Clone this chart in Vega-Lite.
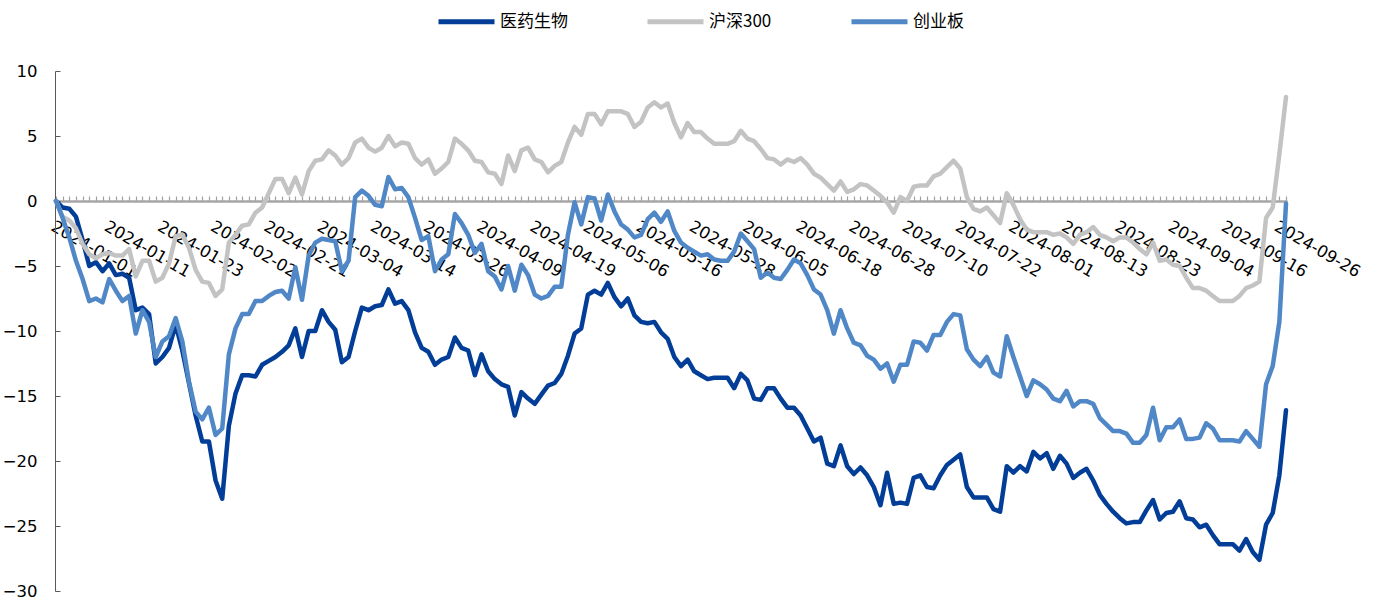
{
"$schema": "https://vega.github.io/schema/vega-lite/v6.json",
"width": 1232, "height": 520,
"autosize": {"type": "none"},
"padding": {"left": 55, "top": 71, "right": 89, "bottom": 8},
"background": "white",
"config": {"view": {"stroke": null}, "font": "DejaVu Sans"},
"data": {"values": [
{"d":"2024-01-01","医药生物":0,"沪深300":0,"创业板":0},
{"d":"2024-01-02","医药生物":-0.5,"沪深300":-1.2,"创业板":-1.3},
{"d":"2024-01-03","医药生物":-0.6,"沪深300":-1.5,"创业板":-2.8},
{"d":"2024-01-04","医药生物":-1.2,"沪深300":-2.1,"创业板":-4.6},
{"d":"2024-01-05","医药生物":-3.0,"沪深300":-3.3,"创业板":-6.0},
{"d":"2024-01-08","医药生物":-5.0,"沪深300":-4.1,"创业板":-7.7},
{"d":"2024-01-09","医药生物":-4.7,"沪深300":-4.4,"创业板":-7.5},
{"d":"2024-01-10","医药生物":-5.4,"沪深300":-4.1,"创业板":-7.8},
{"d":"2024-01-11","医药生物":-4.8,"沪深300":-4.0,"创业板":-6.0},
{"d":"2024-01-12","医药生物":-5.7,"沪深300":-4.2,"创业板":-6.9},
{"d":"2024-01-15","医药生物":-5.6,"沪深300":-4.2,"创业板":-7.7},
{"d":"2024-01-16","医药生物":-5.9,"沪深300":-3.7,"创业板":-7.3},
{"d":"2024-01-17","医药生物":-8.4,"沪深300":-5.8,"创业板":-10.2},
{"d":"2024-01-18","医药生物":-8.2,"沪深300":-4.6,"创业板":-8.4},
{"d":"2024-01-19","医药生物":-8.7,"沪深300":-4.6,"创业板":-9.3},
{"d":"2024-01-22","医药生物":-12.5,"沪深300":-6.2,"创业板":-12.0},
{"d":"2024-01-23","医药生物":-12.0,"沪深300":-5.9,"创业板":-10.8},
{"d":"2024-01-24","医药生物":-11.3,"沪深300":-4.8,"创业板":-10.4},
{"d":"2024-01-25","医药生物":-9.5,"沪深300":-2.7,"创业板":-9.0},
{"d":"2024-01-26","医药生物":-11.5,"沪深300":-2.6,"创业板":-10.8},
{"d":"2024-01-29","医药生物":-14.0,"沪深300":-3.6,"创业板":-13.9},
{"d":"2024-01-30","医药生物":-16.5,"沪深300":-5.3,"创业板":-16.2},
{"d":"2024-01-31","医药生物":-18.5,"沪深300":-6.2,"创业板":-16.8},
{"d":"2024-02-01","医药生物":-18.5,"沪深300":-6.3,"创业板":-15.9},
{"d":"2024-02-02","医药生物":-21.5,"沪深300":-7.3,"创业板":-18.0},
{"d":"2024-02-05","医药生物":-22.9,"沪深300":-6.8,"创业板":-17.5},
{"d":"2024-02-06","医药生物":-17.3,"沪深300":-3.2,"创业板":-11.8},
{"d":"2024-02-07","医药生物":-14.8,"沪深300":-2.6,"创业板":-9.8},
{"d":"2024-02-08","医药生物":-13.4,"沪深300":-1.9,"创业板":-8.7},
{"d":"2024-02-09","医药生物":-13.4,"沪深300":-1.8,"创业板":-8.7},
{"d":"2024-02-19","医药生物":-13.5,"沪深300":-0.9,"创业板":-7.7},
{"d":"2024-02-20","医药生物":-12.6,"沪深300":-0.5,"创业板":-7.7},
{"d":"2024-02-21","医药生物":-12.3,"沪深300":0.6,"创业板":-7.3},
{"d":"2024-02-22","医药生物":-12.0,"沪深300":1.7,"创业板":-7.0},
{"d":"2024-02-23","医药生物":-11.6,"沪深300":1.7,"创业板":-6.9},
{"d":"2024-02-26","医药生物":-11.1,"沪深300":0.6,"创业板":-7.5},
{"d":"2024-02-27","医药生物":-9.8,"沪深300":1.8,"创业板":-5.1},
{"d":"2024-02-28","医药生物":-12.0,"沪深300":0.5,"创业板":-7.6},
{"d":"2024-02-29","医药生物":-10.0,"沪深300":2.3,"创业板":-4.2},
{"d":"2024-03-01","医药生物":-10.0,"沪深300":3.1,"创业板":-3.2},
{"d":"2024-03-04","医药生物":-8.4,"沪深300":3.2,"创业板":-2.9},
{"d":"2024-03-05","医药生物":-9.3,"沪深300":3.9,"创业板":-3.0},
{"d":"2024-03-06","医药生物":-9.9,"沪深300":3.5,"创业板":-3.1},
{"d":"2024-03-07","医药生物":-12.4,"沪深300":2.8,"创业板":-5.4},
{"d":"2024-03-08","医药生物":-12.0,"沪深300":3.3,"创业板":-4.6},
{"d":"2024-03-11","医药生物":-10.0,"沪深300":4.5,"创业板":0.3},
{"d":"2024-03-12","医药生物":-8.2,"沪深300":4.8,"创业板":0.8},
{"d":"2024-03-13","医药生物":-8.4,"沪深300":4.1,"创业板":0.4},
{"d":"2024-03-14","医药生物":-8.1,"沪深300":3.8,"创业板":-0.3},
{"d":"2024-03-15","医药生物":-8.0,"沪深300":4.1,"创业板":-0.4},
{"d":"2024-03-18","医药生物":-6.8,"沪深300":5.0,"创业板":1.85},
{"d":"2024-03-19","医药生物":-7.9,"沪深300":4.2,"创业板":0.9},
{"d":"2024-03-20","医药生物":-7.7,"沪深300":4.5,"创业板":1.0},
{"d":"2024-03-21","医药生物":-8.4,"沪深300":4.4,"创业板":0.3},
{"d":"2024-03-22","医药生物":-10.1,"沪深300":3.3,"创业板":-1.3},
{"d":"2024-03-25","医药生物":-11.3,"沪深300":2.8,"创业板":-3.0},
{"d":"2024-03-26","医药生物":-11.6,"沪深300":3.2,"创业板":-2.7},
{"d":"2024-03-27","医药生物":-12.6,"沪深300":2.1,"创业板":-5.4},
{"d":"2024-03-28","医药生物":-12.2,"沪深300":2.5,"创业板":-4.5},
{"d":"2024-03-29","医药生物":-12.0,"沪深300":3.0,"创业板":-4.1},
{"d":"2024-04-01","医药生物":-10.5,"沪深300":4.8,"创业板":-1.0},
{"d":"2024-04-02","医药生物":-11.3,"沪深300":4.4,"创业板":-1.7},
{"d":"2024-04-03","医药生物":-11.5,"沪深300":3.9,"创业板":-2.6},
{"d":"2024-04-08","医药生物":-13.4,"沪深300":3.1,"创业板":-4.0},
{"d":"2024-04-09","医药生物":-11.8,"沪深300":3.0,"创业板":-3.3},
{"d":"2024-04-10","医药生物":-13.1,"沪深300":2.2,"创业板":-5.4},
{"d":"2024-04-11","医药生物":-13.7,"沪深300":2.1,"创业板":-5.8},
{"d":"2024-04-12","医药生物":-14.1,"沪深300":1.3,"创业板":-6.8},
{"d":"2024-04-15","医药生物":-14.3,"沪深300":3.5,"创业板":-5.0},
{"d":"2024-04-16","医药生物":-16.5,"沪深300":2.3,"创业板":-6.9},
{"d":"2024-04-17","医药生物":-14.7,"沪深300":3.9,"创业板":-4.9},
{"d":"2024-04-18","医药生物":-15.2,"沪深300":4.1,"创业板":-5.7},
{"d":"2024-04-19","医药生物":-15.6,"沪深300":3.2,"创业板":-7.2},
{"d":"2024-04-22","医药生物":-14.9,"沪深300":3.0,"创业板":-7.5},
{"d":"2024-04-23","医药生物":-14.2,"沪深300":2.2,"创业板":-7.3},
{"d":"2024-04-24","医药生物":-14.0,"沪深300":2.7,"创业板":-6.6},
{"d":"2024-04-25","医药生物":-13.3,"沪深300":3.0,"创业板":-6.6},
{"d":"2024-04-26","医药生物":-11.9,"沪深300":4.5,"创业板":-2.6},
{"d":"2024-04-29","医药生物":-10.2,"沪深300":5.7,"创业板":-0.1},
{"d":"2024-04-30","医药生物":-9.8,"沪深300":5.1,"创业板":-1.8},
{"d":"2024-05-06","医药生物":-7.2,"沪深300":6.7,"创业板":0.3},
{"d":"2024-05-07","医药生物":-6.9,"沪深300":6.7,"创业板":0.2},
{"d":"2024-05-08","医药生物":-7.2,"沪深300":5.9,"创业板":-1.5},
{"d":"2024-05-09","医药生物":-6.3,"沪深300":6.9,"创业板":0.5},
{"d":"2024-05-10","医药生物":-7.4,"沪深300":6.9,"创业板":-0.8},
{"d":"2024-05-13","医药生物":-8.1,"沪深300":6.9,"创业板":-1.8},
{"d":"2024-05-14","医药生物":-7.5,"沪深300":6.7,"创业板":-2.2},
{"d":"2024-05-15","医药生物":-8.8,"沪深300":5.7,"创业板":-2.8},
{"d":"2024-05-16","医药生物":-9.3,"沪深300":6.1,"创业板":-2.6},
{"d":"2024-05-17","医药生物":-9.4,"沪深300":7.2,"创业板":-1.4},
{"d":"2024-05-20","医药生物":-9.3,"沪深300":7.6,"创业板":-0.9},
{"d":"2024-05-21","医药生物":-10.1,"沪深300":7.2,"创业板":-1.6},
{"d":"2024-05-22","医药生物":-10.6,"沪深300":7.5,"创业板":-0.8},
{"d":"2024-05-23","医药生物":-12.0,"沪深300":6.0,"创业板":-2.3},
{"d":"2024-05-24","医药生物":-12.7,"沪深300":4.9,"创业板":-3.2},
{"d":"2024-05-27","医药生物":-12.2,"沪深300":6.0,"创业板":-3.6},
{"d":"2024-05-28","医药生物":-13.1,"沪深300":5.3,"创业板":-3.9},
{"d":"2024-05-29","医药生物":-13.4,"沪深300":5.3,"创业板":-4.2},
{"d":"2024-05-30","医药生物":-13.7,"沪深300":4.8,"创业板":-4.1},
{"d":"2024-05-31","医药生物":-13.6,"沪深300":4.4,"创业板":-4.5},
{"d":"2024-06-01","医药生物":-13.6,"沪深300":4.4,"创业板":-4.6},
{"d":"2024-06-02","医药生物":-13.6,"沪深300":4.4,"创业板":-4.6},
{"d":"2024-06-03","医药生物":-14.4,"沪深300":4.6,"创业板":-3.9},
{"d":"2024-06-04","医药生物":-13.3,"沪深300":5.4,"创业板":-2.5},
{"d":"2024-06-05","医药生物":-13.8,"沪深300":4.8,"创业板":-3.1},
{"d":"2024-06-06","医药生物":-15.2,"沪深300":4.6,"创业板":-3.7},
{"d":"2024-06-07","医药生物":-15.3,"沪深300":4.0,"创业板":-5.9},
{"d":"2024-06-11","医药生物":-14.4,"沪深300":3.3,"创业板":-5.5},
{"d":"2024-06-12","医药生物":-14.4,"沪深300":3.2,"创业板":-5.9},
{"d":"2024-06-13","医药生物":-15.2,"沪深300":2.8,"创业板":-6.0},
{"d":"2024-06-14","医药生物":-15.9,"沪深300":3.2,"创业板":-5.3},
{"d":"2024-06-17","医药生物":-15.9,"沪深300":3.0,"创业板":-4.5},
{"d":"2024-06-18","医药生物":-16.5,"沪深300":3.3,"创业板":-4.8},
{"d":"2024-06-19","医药生物":-17.5,"沪深300":2.8,"创业板":-5.7},
{"d":"2024-06-20","医药生物":-18.5,"沪深300":2.1,"创业板":-6.8},
{"d":"2024-06-21","医药生物":-18.2,"沪深300":1.8,"创业板":-7.2},
{"d":"2024-06-24","医药生物":-20.2,"沪深300":1.3,"创业板":-8.4},
{"d":"2024-06-25","医药生物":-20.4,"沪深300":0.8,"创业板":-10.2},
{"d":"2024-06-26","医药生物":-18.8,"沪深300":1.5,"创业板":-8.4},
{"d":"2024-06-27","医药生物":-20.4,"沪深300":0.7,"创业板":-9.8},
{"d":"2024-06-28","医药生物":-21.0,"沪深300":0.9,"创业板":-10.9},
{"d":"2024-07-01","医药生物":-20.5,"沪深300":1.3,"创业板":-11.1},
{"d":"2024-07-02","医药生物":-21.1,"沪深300":1.2,"创业板":-11.9},
{"d":"2024-07-03","医药生物":-22.0,"沪深300":0.8,"创业板":-12.2},
{"d":"2024-07-04","医药生物":-23.4,"沪深300":0.4,"创业板":-12.9},
{"d":"2024-07-05","医药生物":-20.9,"沪深300":-0.1,"创业板":-12.5},
{"d":"2024-07-08","医药生物":-23.3,"沪深300":-0.9,"创业板":-13.9},
{"d":"2024-07-09","医药生物":-23.2,"沪深300":0.3,"创业板":-12.6},
{"d":"2024-07-10","医药生物":-23.3,"沪深300":0.0,"创业板":-12.6},
{"d":"2024-07-11","医药生物":-21.3,"沪深300":1.1,"创业板":-10.8},
{"d":"2024-07-12","医药生物":-21.1,"沪深300":1.2,"创业板":-10.9},
{"d":"2024-07-15","医药生物":-22.0,"沪深300":1.2,"创业板":-11.5},
{"d":"2024-07-16","医药生物":-22.1,"沪深300":1.9,"创业板":-10.3},
{"d":"2024-07-17","医药生物":-21.1,"沪深300":2.1,"创业板":-10.3},
{"d":"2024-07-18","医药生物":-20.3,"沪深300":2.6,"创业板":-9.3},
{"d":"2024-07-19","医药生物":-19.9,"沪深300":3.1,"创业板":-8.7},
{"d":"2024-07-22","医药生物":-19.5,"沪深300":2.5,"创业板":-8.8},
{"d":"2024-07-23","医药生物":-22.0,"沪深300":0.3,"创业板":-11.4},
{"d":"2024-07-24","医药生物":-22.8,"沪深300":-0.6,"创业板":-12.2},
{"d":"2024-07-25","医药生物":-22.8,"沪深300":-0.8,"创业板":-12.7},
{"d":"2024-07-26","医药生物":-22.8,"沪深300":-0.5,"创业板":-12.0},
{"d":"2024-07-29","医药生物":-23.7,"沪深300":-1.1,"创业板":-13.2},
{"d":"2024-07-30","医药生物":-23.9,"沪深300":-1.7,"创业板":-13.5},
{"d":"2024-07-31","医药生物":-20.4,"沪深300":0.6,"创业板":-10.4},
{"d":"2024-08-01","医药生物":-20.9,"沪深300":-0.3,"创业板":-12.0},
{"d":"2024-08-02","医药生物":-20.4,"沪深300":-1.4,"创业板":-13.5},
{"d":"2024-08-05","医药生物":-20.8,"沪深300":-2.2,"创业板":-15.0},
{"d":"2024-08-06","医药生物":-19.3,"沪深300":-2.4,"创业板":-13.8},
{"d":"2024-08-07","医药生物":-19.8,"沪深300":-2.4,"创业板":-14.1},
{"d":"2024-08-08","医药生物":-19.4,"沪深300":-2.4,"创业板":-14.5},
{"d":"2024-08-09","医药生物":-20.6,"沪深300":-2.6,"创业板":-15.2},
{"d":"2024-08-12","医药生物":-19.6,"沪深300":-2.5,"创业板":-15.4},
{"d":"2024-08-13","医药生物":-20.2,"沪深300":-2.8,"创业板":-14.6},
{"d":"2024-08-14","医药生物":-21.3,"沪深300":-3.3,"创业板":-15.8},
{"d":"2024-08-15","医药生物":-20.9,"沪深300":-2.6,"创业板":-15.4},
{"d":"2024-08-16","医药生物":-20.6,"沪深300":-2.4,"创业板":-15.4},
{"d":"2024-08-19","医药生物":-21.5,"沪深300":-2.0,"创业板":-15.6},
{"d":"2024-08-20","医药生物":-22.6,"沪深300":-2.6,"创业板":-16.7},
{"d":"2024-08-21","医药生物":-23.3,"沪深300":-2.8,"创业板":-17.2},
{"d":"2024-08-22","医药生物":-23.9,"沪深300":-3.1,"创业板":-17.7},
{"d":"2024-08-23","医药生物":-24.4,"沪深300":-2.8,"创业板":-17.7},
{"d":"2024-08-26","医药生物":-24.8,"沪深300":-2.8,"创业板":-17.9},
{"d":"2024-08-27","医药生物":-24.7,"沪深300":-3.2,"创业板":-18.6},
{"d":"2024-08-28","医药生物":-24.7,"沪深300":-3.7,"创业板":-18.6},
{"d":"2024-08-29","医药生物":-23.8,"沪深300":-4.1,"创业板":-18.0},
{"d":"2024-08-30","医药生物":-23.0,"沪深300":-3.2,"创业板":-15.9},
{"d":"2024-09-02","医药生物":-24.5,"沪深300":-4.6,"创业板":-18.4},
{"d":"2024-09-03","医药生物":-24.0,"沪深300":-4.5,"创业板":-17.4},
{"d":"2024-09-04","医药生物":-23.9,"沪深300":-4.9,"创业板":-17.4},
{"d":"2024-09-05","医药生物":-23.1,"沪深300":-5.0,"创业板":-16.8},
{"d":"2024-09-06","医药生物":-24.4,"沪深300":-5.9,"创业板":-18.3},
{"d":"2024-09-09","医药生物":-24.5,"沪深300":-6.7,"创业板":-18.3},
{"d":"2024-09-10","医药生物":-25.1,"沪深300":-6.7,"创业板":-18.2},
{"d":"2024-09-11","医药生物":-24.9,"沪深300":-6.9,"创业板":-17.1},
{"d":"2024-09-12","医药生物":-25.7,"沪深300":-7.3,"创业板":-17.5},
{"d":"2024-09-13","医药生物":-26.4,"沪深300":-7.7,"创业板":-18.4},
{"d":"2024-09-16","医药生物":-26.4,"沪深300":-7.7,"创业板":-18.4},
{"d":"2024-09-17","医药生物":-26.4,"沪深300":-7.7,"创业板":-18.4},
{"d":"2024-09-18","医药生物":-26.9,"沪深300":-7.3,"创业板":-18.5},
{"d":"2024-09-19","医药生物":-26.0,"沪深300":-6.7,"创业板":-17.7},
{"d":"2024-09-20","医药生物":-27.0,"沪深300":-6.5,"创业板":-18.3},
{"d":"2024-09-23","医药生物":-27.6,"沪深300":-6.2,"创业板":-18.9},
{"d":"2024-09-24","医药生物":-24.9,"沪深300":-1.3,"创业板":-14.1},
{"d":"2024-09-25","医药生物":-24.0,"沪深300":-0.5,"创业板":-12.7},
{"d":"2024-09-26","医药生物":-21.1,"沪深300":3.6,"创业板":-9.3},
{"d":"2024-09-27","医药生物":-16.1,"沪深300":8.0,"创业板":-0.2}
]},
"transform": [{"fold": ["医药生物", "沪深300", "创业板"], "as": ["series", "value"]}],
"mark": {"type": "line", "strokeWidth": 4.5, "strokeJoin": "round", "strokeCap": "round"},
"encoding": {
  "x": {"field": "d", "type": "ordinal", "scale": {"type": "point", "padding": 0.15},
    "axis": {"title": null, "orient": "bottom", "offset": -390, "domainColor": "#a6a6a6", "domainWidth": 2.5,
      "tickColor": "#a0a0a0", "tickSize": -5, "tickWidth": 1.2, "labelAngle": 30, "labelAlign": "left",
      "labelBaseline": "top", "labelPadding": 22, "labelDx": 3, "labelFontSize": 16.5, "labelFont": "DejaVu Sans", "labelColor": "#000000",
      "labelOverlap": false, "labelBound": false, "labelFlush": false,
      "labelExpr": "indexof(['2024-01-01','2024-01-11','2024-01-23','2024-02-02','2024-02-21','2024-03-04','2024-03-14','2024-03-26','2024-04-09','2024-04-19','2024-05-06','2024-05-16','2024-05-28','2024-06-05','2024-06-18','2024-06-28','2024-07-10','2024-07-22','2024-08-01','2024-08-13','2024-08-23','2024-09-04','2024-09-16','2024-09-26'], datum.value) >= 0 ? datum.value : ''"}},
  "y": {"field": "value", "type": "quantitative", "scale": {"domain": [-30, 10], "nice": false, "zero": false},
    "axis": {"title": null, "values": [-30, -25, -20, -15, -10, -5, 0, 5, 10], "grid": false,
      "domainColor": "#595959", "domainWidth": 1, "tickColor": "#595959", "tickSize": -5,
      "labelPadding": 23, "labelFontSize": 16.5, "labelFont": "DejaVu Sans", "labelColor": "#000000"}},
  "color": {"field": "series", "type": "nominal",
    "scale": {"domain": ["医药生物", "沪深300", "创业板"], "range": ["#023e97", "#c3c3c3", "#4f87c7"]},
    "legend": {"title": null, "orient": "none", "legendX": 381, "legendY": -80, "direction": "horizontal",
      "symbolType": "stroke", "symbolSize": 3136, "symbolStrokeWidth": 5, "labelFont": "Noto Sans CJK SC",
      "labelFontSize": 17, "labelColor": "#000000", "labelOffset": 3, "columnPadding": 69}}
}
}
